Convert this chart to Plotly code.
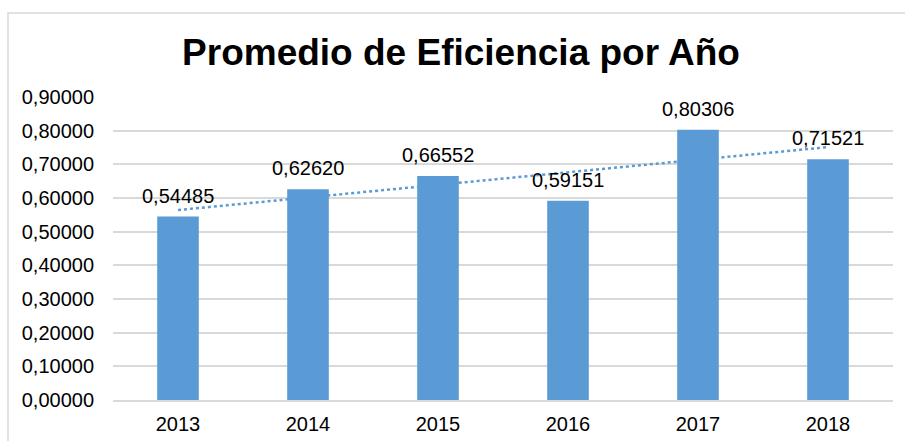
import numpy as np
import plotly.graph_objects as go

years = ["2013", "2014", "2015", "2016", "2017", "2018"]
eficiencia = [0.54485, 0.62620, 0.66552, 0.59151, 0.80306, 0.71521]
y_ticks = [0.0, 0.1, 0.2, 0.3, 0.4, 0.5, 0.6, 0.7, 0.8, 0.9]
title_text = "Promedio de Eficiencia por Año"

BAR_COLOR = "#5B9BD5"
FONT = "Liberation Sans, Arial, sans-serif"

fig = go.Figure()
fig.add_trace(go.Bar(
    x=years, y=eficiencia, marker=dict(color=BAR_COLOR, line=dict(width=0)),
    width=0.32, hoverinfo="skip",
))

# linear trendline (computed from data); category index positions
idx = np.arange(len(eficiencia))
slope, intercept = np.polyfit(idx, eficiencia, 1)
fig.add_shape(
    type="line", xref="x", yref="y", layer="between",
    x0=int(idx[0]), x1=int(idx[-1]),
    y0=float(slope * idx[0] + intercept), y1=float(slope * idx[-1] + intercept),
    line=dict(color=BAR_COLOR, width=2.5, dash="dot"),
)

# data labels
for i, yv in enumerate(eficiencia):
    fig.add_annotation(
        x=i, y=yv, xref="x", yref="y", text=f"{yv:.5f}".replace(".", ","),
        showarrow=False, yanchor="bottom", xanchor="center", yshift=8,
        font=dict(family=FONT, size=20, color="#000000"),
    )

# chart border
L, T, W, H = 113, 97, 780, 303
fig.add_shape(
    type="rect", xref="paper", yref="paper", layer="below",
    x0=(8 - L) / W, x1=(915 - L) / W, y0=(T + H - 450) / H, y1=(T + H - 13) / H,
    line=dict(color="#D9D9D9", width=1.5), fillcolor="rgba(0,0,0,0)",
)

fig.update_layout(
    width=905, height=441,
    margin=dict(l=L, r=905 - L - W, t=T, b=441 - T - H, autoexpand=False),
    paper_bgcolor="white", plot_bgcolor="white",
    separators=",.",
    showlegend=False,
    bargap=0.68,
    font=dict(family=FONT, size=20, color="#000000"),
    title=dict(
        text=f"<b>{title_text}</b>", x=461 / 905, xanchor="center",
        y=1 - 52 / 441, yanchor="middle", yref="container",
        font=dict(family=FONT, size=37, color="#000000"),
    ),
    xaxis=dict(
        type="category", categoryorder="array", categoryarray=years,
        range=[-0.5, len(years) - 0.5], autorange=False, automargin=False,
        showgrid=False, zeroline=False, showline=True,
        linecolor="#D9D9D9", linewidth=1.5, ticks="", ticklabelstandoff=5,
        tickfont=dict(size=20, color="#000000"),
    ),
    yaxis=dict(
        range=[0, 0.9], tickvals=y_ticks, tickformat=".5f", automargin=False,
        showgrid=True, gridcolor="#D9D9D9", gridwidth=1.5,
        zeroline=False, showline=False, ticks="", ticklabelstandoff=18,
        tickfont=dict(size=20, color="#000000"),
    ),
)

fig.write_html(
    "out.html",
    config={"displayModeBar": False},
    post_script="document.body.style.margin='0';document.body.style.overflow='hidden';",
)
